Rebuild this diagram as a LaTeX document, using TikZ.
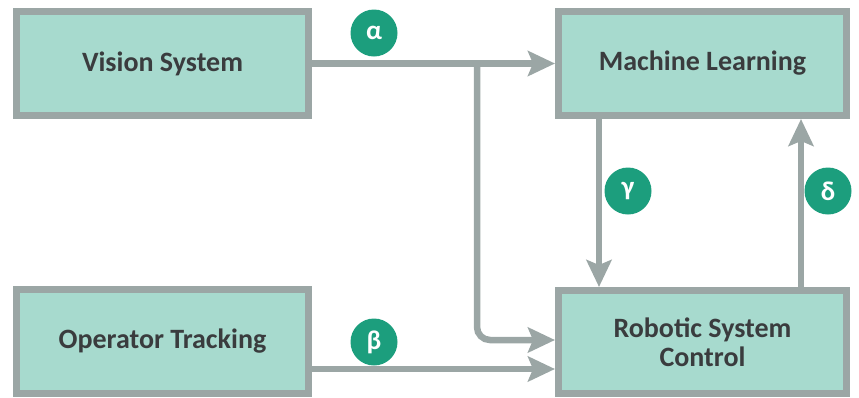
\documentclass[tikz,border=0pt]{standalone}
\usepackage{fontspec}
\setmainfont{Carlito}
\usetikzlibrary{arrows.meta}
\definecolor{boxfill}{HTML}{A7DACE}
\definecolor{boxline}{HTML}{9BA6A5}
\definecolor{tagfill}{HTML}{1C9E7D}
\definecolor{boxtext}{HTML}{3A3C3E}

\begin{document}
\begin{tikzpicture}[x=1pt,y=-1pt,
  block/.style={draw=boxline,fill=boxfill,line width=7pt,minimum width=292pt,minimum height=104pt,
    inner sep=0pt,align=center,text=boxtext,font=\fontsize{28}{29}\selectfont\bfseries},
  flow/.style={draw=boxline,line width=6.5pt,-{Stealth[length=27pt,width=25pt,inset=5pt]}},
  tag/.style={circle,fill=tagfill,minimum size=47pt,inner sep=0pt,text=white,
    font=\fontsize{27}{27}\selectfont\bfseries}]

\useasboundingbox (0,0) rectangle (859,397);

\node[block] (vision) at (162.5,63.5) {Vision System};
\node[block,minimum width=288pt] (ml) at (702.5,63.5) {Machine Learning};
\node[block] (op) at (162.5,341.5) {Operator Tracking};
\node[block,minimum width=288pt,minimum height=103pt] (robot) at (702.5,342) {Robotic System\\Control};

\coordinate (split) at (477,63.5);

\draw[flow] (vision) -- (ml);
\draw[flow,rounded corners=13pt] (split) |- ([yshift=2pt]robot.west);
\draw[flow] ([yshift=-27.5pt]op.east) -- ([yshift=-27.5pt]op.east -| robot.west);
\draw[flow] ([xshift=-103.5pt]ml.south) -- ([xshift=-103.5pt]robot.north);
\draw[flow] ([xshift=98.5pt]robot.north) -- ([xshift=98.5pt]ml.south);

\node[tag] (alpha) at (374,33) {α};
\node[tag] (beta) at (374,342) {β};
\node[tag] (gamma) at (628,191) {γ};
\node[tag] (delta) at (828,191) {δ};

\end{tikzpicture}
\end{document}
